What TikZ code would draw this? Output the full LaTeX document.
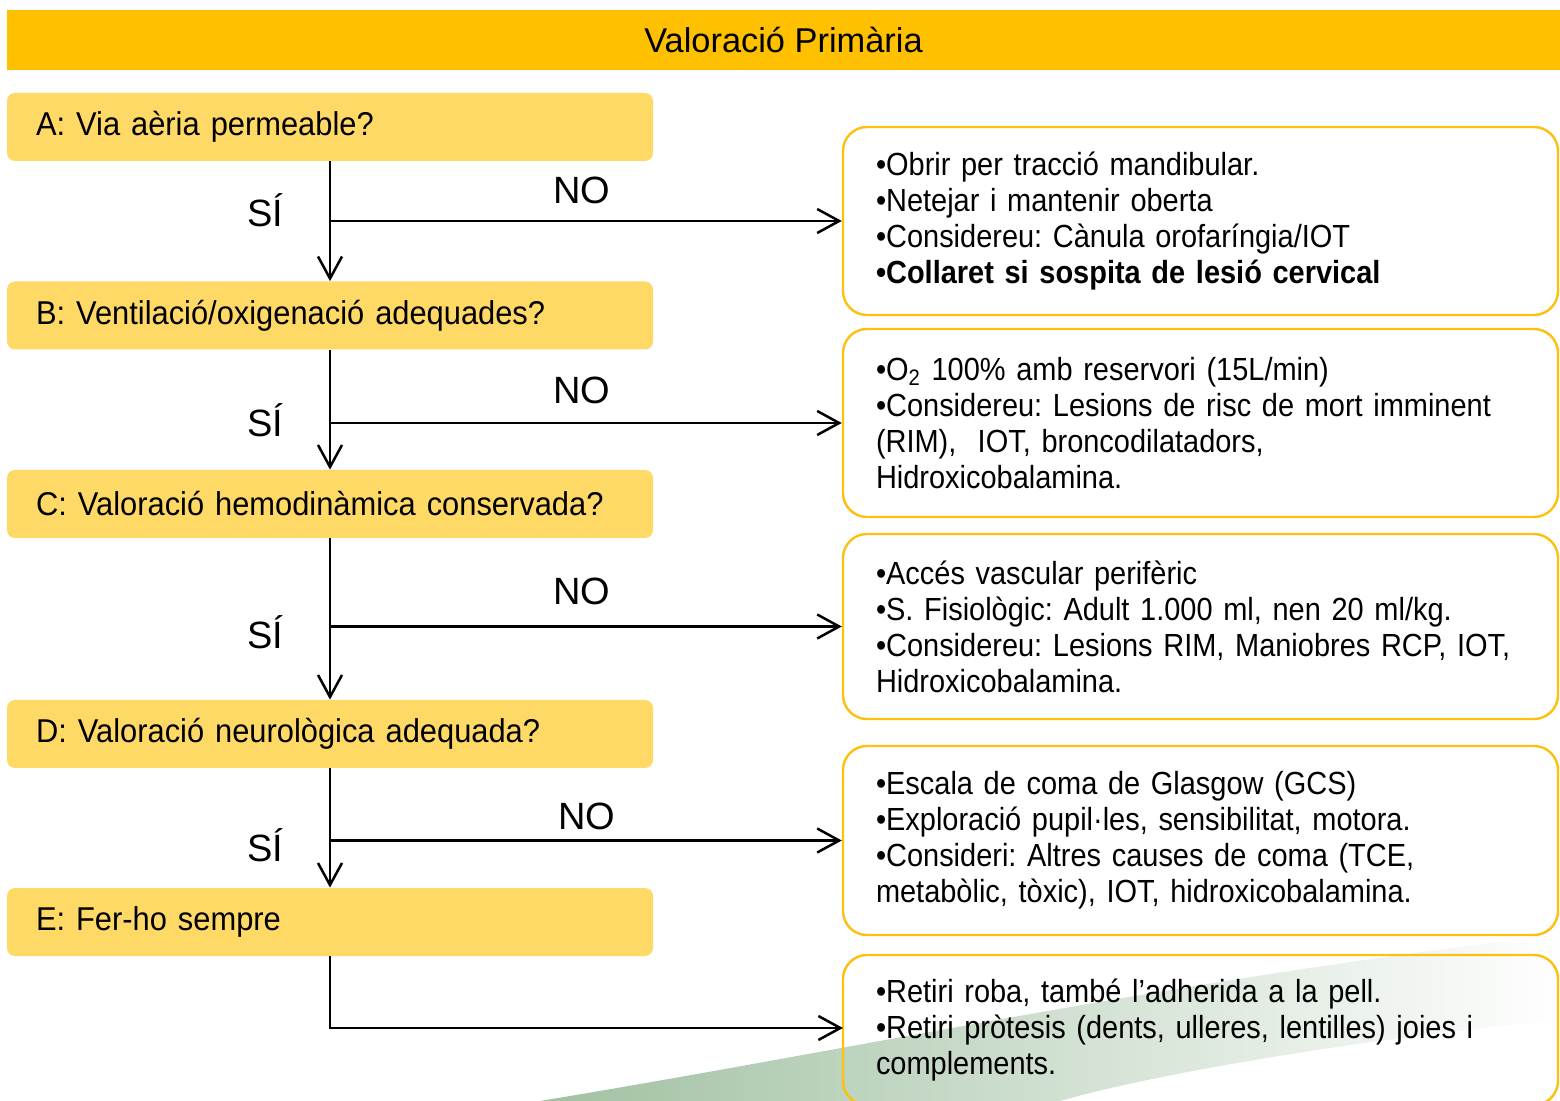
\documentclass[tikz,border=0pt]{standalone}
\usepackage{fontspec}
\setmainfont{Liberation Sans}
\newfontfamily\condf[FakeStretch=0.905]{Liberation Sans}
\newfontfamily\condq[FakeStretch=0.935]{Liberation Sans}
\usetikzlibrary{arrows.meta}
\definecolor{hdr}{HTML}{FFC000}
\definecolor{qfill}{HTML}{FFD966}
\definecolor{bord}{HTML}{FDC010}
\definecolor{swg}{HTML}{6FA070}
\tikzset{
  header/.style={fill=hdr, draw=none, minimum width=776.5pt, minimum height=30pt, inner sep=0pt, font=\fontsize{17.2}{19}\selectfont},
  qbox/.style={fill=qfill, draw=none, rounded corners=4pt, minimum height=34pt, text width=294pt, inner xsep=14.5pt, inner ysep=0pt, align=left, font=\condq\frenchspacing\fontsize{16.5}{19}\selectfont},
  abox/.style={draw=bord, line width=1.2pt, rounded corners=12pt, text width=324.5pt, inner xsep=16.5pt, inner ysep=0pt, align=left, font=\condf\frenchspacing\fontsize{16}{18}\selectfont},
  arr/.style={line width=1.25pt, -{Straight Barb[length=11pt, width=12pt, line width=1.25pt]}},
  lbl/.style={font=\fontsize{19}{21}\selectfont, inner sep=0pt}
}
\begin{document}
\begin{tikzpicture}[x=0.5pt, y=-0.5pt]
\clip (0,0) rectangle (1560,1101);
\fill[white] (0,0) rectangle (1560,1101);
% green swoosh
\shade[left color=swg, right color=white, opacity=0.65]
  (540,1101) .. controls (850,1050) and (1200,975) .. (1560,935)
  -- (1560,1020) .. controls (1350,1040) and (1150,1075) .. (1060,1101) -- cycle;
% header
\node[header] (H) at (783.5,40) {Valoració Primària};
% question boxes
\node[qbox] (A) at (330,127) {A: Via aèria permeable?};
\node[qbox] (B) at (330,315.5) {B: Ventilació/oxigenació adequades?};
\node[qbox] (C) at (330,504) {C: Valoració hemodinàmica conservada?};
\node[qbox] (D) at (330,734) {D: Valoració neurològica adequada?};
\node[qbox] (E) at (330,922) {E: Fer-ho sempre};
% action boxes
\node[abox, minimum height=94pt] (R1) at (1200.5,221) {•Obrir per tracció mandibular.\\•Netejar i mantenir oberta\\•Considereu: Cànula orofaríngia/IOT\\\textbf{•Collaret si sospita de lesió cervical}};
\node[abox, minimum height=94pt] (R2) at (1200.5,423) {•O\textsubscript{2} 100\% amb reservori (15L/min)\\•Considereu: Lesions de risc de mort imminent\\(RIM),\ \ IOT, broncodilatadors,\\Hidroxicobalamina.};
\node[abox, minimum height=92.5pt] (R3) at (1200.5,626.5) {•Accés vascular perifèric\\•S. Fisiològic: Adult 1.000 ml, nen 20 ml/kg.\\•Considereu: Lesions RIM, Maniobres RCP, IOT,\\Hidroxicobalamina.};
\node[abox, minimum height=94.5pt] (R4) at (1200.5,840.5) {•Escala de coma de Glasgow (GCS)\\•Exploració pupil·les, sensibilitat, motora.\\•Consideri: Altres causes de coma (TCE,\\metabòlic, tòxic), IOT, hidroxicobalamina.};
\node[abox, minimum height=75pt] (R5) at (1200.5,1030) {•Retiri roba, també l’adherida a la pell.\\•Retiri pròtesis (dents, ulleres, lentilles) joies i\\complements.};
\coordinate (e5) at (843,1028);
% connectors
\draw[arr] (A.south) -- (B.north);
\draw[arr] (B.south) -- (C.north);
\draw[arr] (C.south) -- (D.north);
\draw[arr] (D.south) -- (E.north);
\draw[arr] (A.south |- R1.west) -- (R1.west);
\draw[arr] (B.south |- R2.west) -- (R2.west);
\draw[arr] (C.south |- R3.west) -- (R3.west);
\draw[arr] (D.south |- R4.west) -- (R4.west);
\draw[arr] (E.south) |- (e5);
% labels
\node[lbl] (s1) at (265,210) {SÍ};
\node[lbl] (s2) at (265,420) {SÍ};
\node[lbl] (s3) at (265,632) {SÍ};
\node[lbl] (s4) at (265,845) {SÍ};
\node[lbl] (n1) at (582,190) {NO};
\node[lbl] (n2) at (582,390) {NO};
\node[lbl] (n3) at (582,591) {NO};
\node[lbl] (n4) at (587,816) {NO};
\end{tikzpicture}
\end{document}
